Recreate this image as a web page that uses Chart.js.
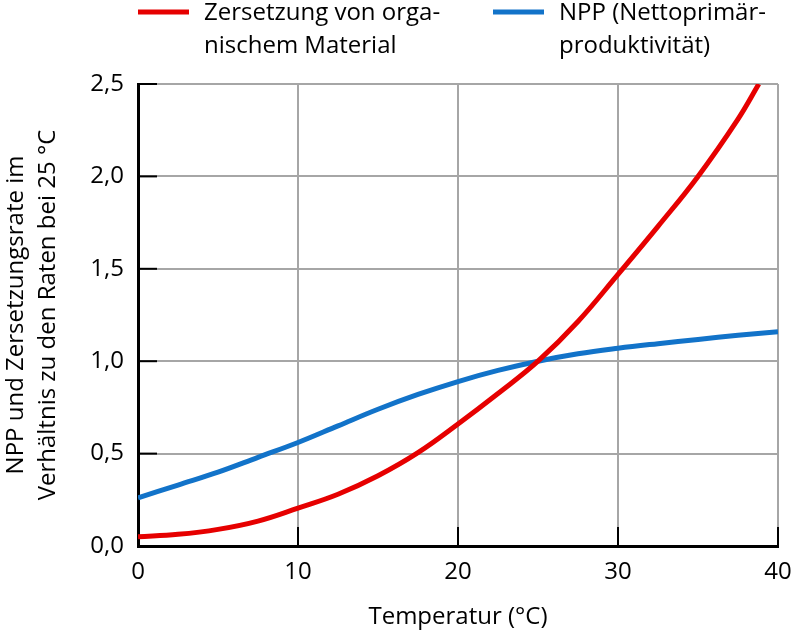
<!DOCTYPE html>
<html>
<head>
<meta charset="utf-8">
<script src="https://cdn.jsdelivr.net/npm/chart.js@4.4.0/dist/chart.umd.min.js"></script>
<style>
  html, body { margin: 0; padding: 0; background: #fff; }
  #wrap { width: 793px; height: 636px; }
</style>
</head>
<body>
<div id="wrap"><canvas id="myChart"></canvas></div>
<script>
// Zersetzung von organischem Material (rot)
const tempZersetzung = [0, 2.5, 5, 7.5, 10, 12.5, 15, 17.5, 20, 22.5, 25, 27.5, 30, 32.5, 35, 37.5, 38.8];
const zersetzung     = [0.05, 0.063, 0.09, 0.135, 0.205, 0.28, 0.38, 0.505, 0.66, 0.825, 1.0, 1.215, 1.47, 1.73, 2.0, 2.31, 2.5];

// NPP (blau)
const tempNpp = [0, 2.5, 5, 7.5, 10, 12.5, 15, 17.5, 20, 22.5, 25, 27.5, 30, 32.5, 35, 37.5, 40];
const npp     = [0.26, 0.33, 0.40, 0.48, 0.56, 0.65, 0.74, 0.82, 0.89, 0.95, 1.0, 1.04, 1.07, 1.095, 1.118, 1.14, 1.16];

const xTickLabels = ['0', '10', '20', '30', '40'];
const yTickLabels = ['0,0', '0,5', '1,0', '1,5', '2,0', '2,5'];

const legendItems = [
  { lines: ['Zersetzung von orga-', 'nischem Material'], color: '#e60000' },
  { lines: ['NPP (Nettoprimär-', 'produktivität)'], color: '#1273c9' }
];

const schrift = '"Open Sans", sans-serif';

function punkte(xs, ys) {
  return xs.map((x, i) => ({ x: x, y: ys[i] }));
}

// kleine schwarze Striche nach innen + Legende oben
const extras = {
  id: 'extras',
  beforeDatasetsDraw(chart) {
    const ctx = chart.ctx;
    const area = chart.chartArea;
    const sx = chart.scales.x;
    const sy = chart.scales.y;
    ctx.save();
    ctx.strokeStyle = '#000';
    ctx.lineWidth = 2;
    sx.ticks.forEach(t => {
      const px = sx.getPixelForValue(t.value);
      ctx.beginPath();
      ctx.moveTo(px, area.bottom);
      ctx.lineTo(px, area.bottom - 19);
      ctx.stroke();
    });
    sy.ticks.forEach(t => {
      const py = sy.getPixelForValue(t.value);
      ctx.beginPath();
      ctx.moveTo(area.left, py);
      ctx.lineTo(area.left + 19, py);
      ctx.stroke();
    });
    ctx.restore();
  },
  afterDraw(chart) {
    const ctx = chart.ctx;
    const starts = [138, 493];
    ctx.save();
    ctx.font = '24px ' + schrift;
    ctx.textBaseline = 'middle';
    ctx.fillStyle = '#000';
    legendItems.forEach((item, i) => {
      const x0 = starts[i];
      ctx.strokeStyle = item.color;
      ctx.lineWidth = 5;
      ctx.beginPath();
      ctx.moveTo(x0, 12);
      ctx.lineTo(x0 + 51, 12);
      ctx.stroke();
      item.lines.forEach((txt, j) => {
        ctx.fillText(txt, x0 + 66, 13 + j * 33);
      });
    });
    ctx.restore();
  }
};

new Chart(document.getElementById('myChart').getContext('2d'), {
  type: 'line',
  data: {
    datasets: [
      {
        label: 'Zersetzung von organischem Material',
        data: punkte(tempZersetzung, zersetzung),
        borderColor: '#e60000',
        borderWidth: 5,
        pointRadius: 0,
        tension: 0.4,
        fill: false
      },
      {
        label: 'NPP (Nettoprimärproduktivität)',
        data: punkte(tempNpp, npp),
        borderColor: '#1273c9',
        borderWidth: 5,
        pointRadius: 0,
        tension: 0.4,
        fill: false
      }
    ]
  },
  options: {
    responsive: true,
    maintainAspectRatio: false,
    animation: false,
    layout: { padding: { top: 84, right: 15, left: 0, bottom: 0 } },
    plugins: {
      legend: { display: false },
      tooltip: { enabled: false }
    },
    scales: {
      x: {
        type: 'linear',
        min: 0,
        max: 40,
        afterFit: s => {
          s.height = 90;
          s.paddingLeft = 0;
          s.paddingRight = 0;
        },
        ticks: {
          stepSize: 10,
          color: '#000',
          font: { family: schrift, size: 24 },
          padding: 12,
          maxRotation: 0,
          callback: (v, i) => xTickLabels[i]
        },
        grid: { color: '#a6a6a6', lineWidth: 2, drawTicks: false },
        border: { color: '#000', width: 3 },
        title: {
          display: true,
          text: 'Temperatur (°C)',
          color: '#000',
          font: { family: schrift, size: 24 },
          padding: { top: 0, bottom: 4 }
        }
      },
      y: {
        min: 0,
        max: 2.5,
        afterFit: s => { s.width = 138; },
        ticks: {
          stepSize: 0.5,
          color: '#000',
          font: { family: schrift, size: 24 },
          padding: 14,
          callback: (v, i) => yTickLabels[i]
        },
        grid: { color: '#a6a6a6', lineWidth: 2, drawTicks: false },
        border: { color: '#000', width: 3 },
        title: {
          display: true,
          text: ['NPP und Zersetzungsrate im', 'Verhältnis zu den Raten bei 25 °C'],
          color: '#000',
          font: { family: schrift, size: 24, lineHeight: 1.35 },
          padding: { top: 0, bottom: 0 }
        }
      }
    }
  },
  plugins: [extras]
});
</script>
</body>
</html>
